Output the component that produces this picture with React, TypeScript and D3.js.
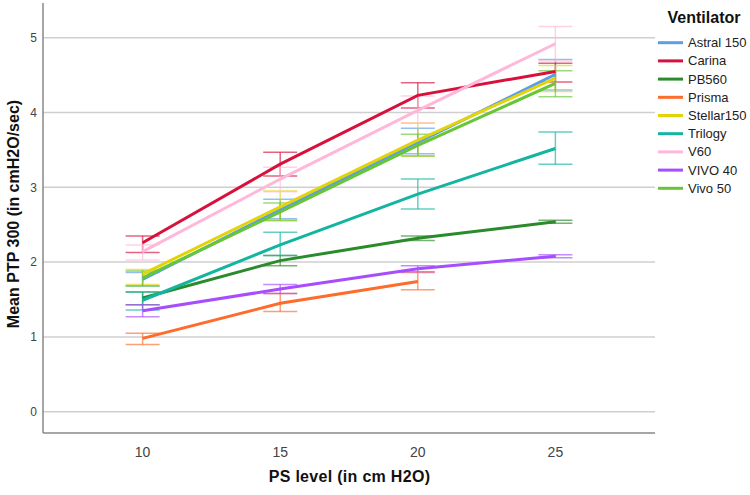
import React from "react";
import * as d3 from "d3";

const categories = ["10", "15", "20", "25"];
const seriesNames = ["Astral 150", "Carina", "PB560", "Prisma", "Stellar150", "Trilogy", "V60", "VIVO 40", "Vivo 50"];
const seriesColors = ["#5b9ee8", "#d8103c", "#2b8a2b", "#ff6b2b", "#e3d40a", "#14b5a0", "#ffb8da", "#a64dff", "#66c633"];

const astralMean = [1.77, 2.70, 3.60, 4.51];
const astralLo = [1.68, 2.58, 3.45, 4.30];
const astralHi = [1.86, 2.84, 3.79, 4.71];

const carinaMean = [2.26, 3.31, 4.23, 4.55];
const carinaLo = [2.13, 3.15, 4.06, 4.41];
const carinaHi = [2.35, 3.47, 4.40, 4.66];

const pb560Mean = [1.52, 2.02, 2.32, 2.54];
const pb560Lo = [1.43, 1.95, 2.29, 2.52];
const pb560Hi = [1.60, 2.09, 2.35, 2.56];

const prismaMean = [0.98, 1.45, 1.74, null];
const prismaLo = [0.90, 1.34, 1.63, null];
const prismaHi = [1.05, 1.58, 1.86, null];

const stellarMean = [1.84, 2.74, 3.63, 4.46];
const stellarLo = [1.70, 2.55, 3.42, 4.28];
const stellarHi = [1.90, 2.95, 3.86, 4.63];

const trilogyMean = [1.49, 2.23, 2.91, 3.52];
const trilogyLo = [1.36, 2.09, 2.71, 3.31];
const trilogyHi = [1.60, 2.40, 3.11, 3.74];

const v60Mean = [2.14, 3.11, 4.03, 4.92];
const v60Lo = [2.03, 2.94, 3.86, 4.69];
const v60Hi = [2.23, 3.27, 4.22, 5.15];

const vivo40Mean = [1.35, 1.64, 1.91, 2.08];
const vivo40Lo = [1.27, 1.58, 1.87, 2.06];
const vivo40Hi = [1.43, 1.70, 1.95, 2.10];

const vivo50Mean = [1.79, 2.67, 3.56, 4.39];
const vivo50Lo = [1.68, 2.56, 3.42, 4.21];
const vivo50Hi = [1.88, 2.79, 3.71, 4.56];

const yTicks = [0, 1, 2, 3, 4, 5];

const means = [astralMean, carinaMean, pb560Mean, prismaMean, stellarMean, trilogyMean, v60Mean, vivo40Mean, vivo50Mean];
const los = [astralLo, carinaLo, pb560Lo, prismaLo, stellarLo, trilogyLo, v60Lo, vivo40Lo, vivo50Lo];
const his = [astralHi, carinaHi, pb560Hi, prismaHi, stellarHi, trilogyHi, v60Hi, vivo40Hi, vivo50Hi];

const FONT = "'Liberation Sans', Arial, sans-serif";

export default function App() {
  const W = 750, H = 495;
  const left = 43, right = 655, top = 3, bottom = 433;
  const x = d3.scalePoint<string>().domain(categories).range([left, right]).padding(0.724);
  const y = d3.scaleLinear().domain([-0.285, 5.465]).range([bottom, top]);
  const capHalf = 17;

  const line = d3
    .line<number | null>()
    .defined((d) => d != null)
    .x((_, i) => x(categories[i]) as number)
    .y((d) => y(d as number));

  return (
    <svg width={W} height={H} style={{ position: "absolute", left: 0, top: 0, fontFamily: FONT }}>
      <rect x={0} y={0} width={W} height={H} fill="#fff" />
      {yTicks.map((t) => (
        <g key={t}>
          <line x1={left} x2={right} y1={y(t)} y2={y(t)} stroke="#cfcfcf" strokeWidth={1.5} />
          <text x={37} y={y(t)} dy="0.35em" textAnchor="end" fontSize={12} fill="#444">
            {t}
          </text>
        </g>
      ))}
      {/* error bars */}
      {seriesNames.map((name, si) => (
        <g key={"eb" + name} stroke={seriesColors[si]} strokeOpacity={0.65} strokeWidth={1.5}>
          {categories.map((c, i) => {
            const lo = los[si][i];
            const hi = his[si][i];
            if (lo == null || hi == null) return null;
            const cx = x(c) as number;
            return (
              <g key={c}>
                <line x1={cx} x2={cx} y1={y(lo)} y2={y(hi)} />
                <line x1={cx - capHalf} x2={cx + capHalf} y1={y(lo)} y2={y(lo)} />
                <line x1={cx - capHalf} x2={cx + capHalf} y1={y(hi)} y2={y(hi)} />
              </g>
            );
          })}
        </g>
      ))}
      {/* lines */}
      {seriesNames.map((name, si) => (
        <path key={"l" + name} d={line(means[si]) || ""} fill="none" stroke={seriesColors[si]} strokeWidth={3} />
      ))}
      {/* axes */}
      <line x1={left} x2={left} y1={top} y2={bottom} stroke="#888" strokeWidth={1.5} />
      <line x1={left} x2={right} y1={bottom} y2={bottom} stroke="#888" strokeWidth={1.5} />
      {categories.map((c) => (
        <text key={c} x={x(c) as number} y={457} textAnchor="middle" fontSize={14} fill="#444">
          {c}
        </text>
      ))}
      <text x={349.5} y={482} textAnchor="middle" fontSize={16} fontWeight="bold" fill="#111" letterSpacing={0.3}>
        PS level (in cm H2O)
      </text>
      <text
        transform={`translate(19, 214) rotate(-90)`}
        textAnchor="middle"
        fontSize={16}
        fontWeight="bold"
        fill="#111"
      >
        Mean PTP 300 (in cmH2O/sec)
      </text>
      {/* legend */}
      <text x={704} y={23} textAnchor="middle" fontSize={16} fontWeight="bold" fill="#111">
        Ventilator
      </text>
      {seriesNames.map((name, si) => {
        const ly = 42.7 + si * 18.2;
        return (
          <g key={"lg" + name}>
            <line x1={658} x2={683} y1={ly} y2={ly} stroke={seriesColors[si]} strokeWidth={3} />
            <text x={688} y={ly} dy="0.35em" fontSize={13} fill="#222">
              {name}
            </text>
          </g>
        );
      })}
    </svg>
  );
}
